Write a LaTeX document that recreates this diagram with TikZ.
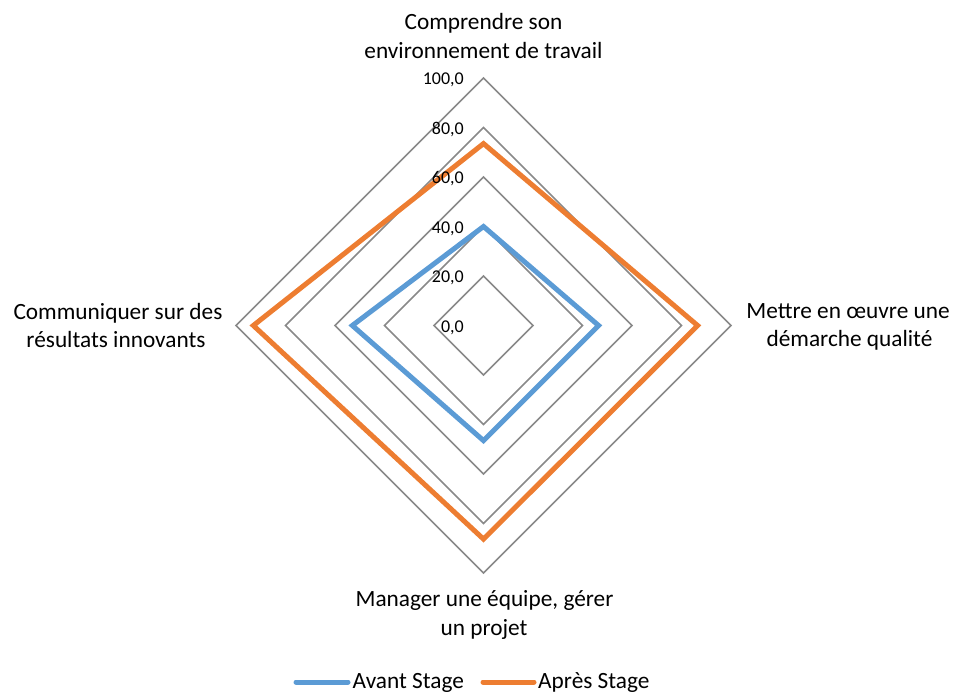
\documentclass[tikz,border=0pt]{standalone}
\usepackage{fontspec}
\setmainfont{Carlito}
\begin{document}
\begin{tikzpicture}[x=1pt,y=-1pt,
  gridline/.style={draw=gridgray,line width=1.5pt,line join=miter},
  serie/.style={line width=5pt,line join=miter},
  lbl/.style={anchor=base,inner sep=0pt,font=\fontsize{23.3}{28}\selectfont},
  tick/.style={anchor=base east,inner sep=0pt,font=\fontsize{18}{22}\selectfont},
  legline/.style={line width=5pt,line cap=round}]
\definecolor{gridgray}{HTML}{898989}
\definecolor{avant}{HTML}{5B9BD5}
\definecolor{apres}{HTML}{ED7D31}
\useasboundingbox (0,0) rectangle (955,693);
\coordinate (C) at (483.5,325.5);
\def\sc{2.475}
% grid
\foreach \v in {20,40,60,80,100}{
  \draw[gridline] ([yshift=\sc*\v pt]C) -- ([xshift=\sc*\v pt]C) -- ([yshift=-\sc*\v pt]C) -- ([xshift=-\sc*\v pt]C) -- cycle;
}
% series
\coordinate (bT) at ([yshift=\sc*40 pt]C);
\coordinate (bR) at ([xshift=\sc*46.5 pt]C);
\coordinate (bB) at ([yshift=-\sc*46.5 pt]C);
\coordinate (bL) at ([xshift=-\sc*53 pt]C);
\draw[serie,avant] (bT) -- (bR) -- (bB) -- (bL) -- cycle;
\coordinate (oT) at ([yshift=\sc*73.5 pt]C);
\coordinate (oR) at ([xshift=\sc*86.5 pt]C);
\coordinate (oB) at ([yshift=-\sc*86.3 pt]C);
\coordinate (oL) at ([xshift=-\sc*93 pt]C);
\draw[serie,apres] (oT) -- (oR) -- (oB) -- (oL) -- cycle;
% tick labels
\foreach \v/\t in {0/{0,0},20/{20,0},40/{40,0},60/{60,0},80/{80,0},100/{100,0}}{
  \node[tick] at ([xshift=-19.5pt,yshift=\sc*\v pt-6.5pt]C) {\t};
}
% axis labels
\node[lbl] (t1) at (483.5,30) {Comprendre son};
\node[lbl] (t2) at (483.5,58.5) {environnement de travail};
\node[lbl] (r1) at (848,318.5) {Mettre en œuvre une};
\node[lbl] (r2) at (849.5,346.5) {démarche qualité};
\node[lbl] (b1) at (484.5,606.5) {Manager une équipe, gérer};
\node[lbl] (b2) at (484,635) {un projet};
\node[lbl] (l1) at (118,319) {Communiquer sur des};
\node[lbl] (l2) at (116,347) {résultats innovants};
% legend
\coordinate (la1) at (296,682);
\coordinate (la2) at (348,682);
\draw[legline,avant] (la1) -- (la2);
\node[lbl,anchor=base west] (lat) at (352.5,688.5) {Avant Stage};
\coordinate (lb1) at (483,682);
\coordinate (lb2) at (534,682);
\draw[legline,apres] (lb1) -- (lb2);
\node[lbl,anchor=base west] (lbt) at (538,688.5) {Après Stage};
\end{tikzpicture}
\end{document}
